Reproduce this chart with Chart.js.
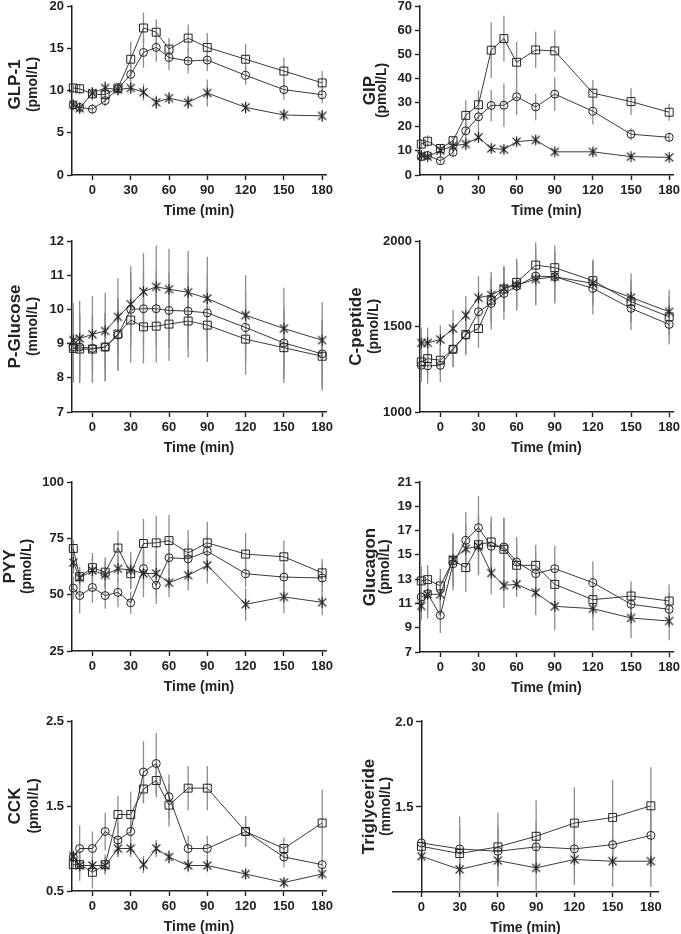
<!DOCTYPE html>
<html>
<head>
<meta charset="utf-8">
<script src="https://cdn.jsdelivr.net/npm/chart.js@4.4.1/dist/chart.umd.min.js"></script>
<style>
    body { margin: 0; background: #fff; }
    #page { position: relative; width: 681px; height: 934px; overflow: hidden; }
    #page canvas { position: absolute; }
</style>
</head>
<body>
<div id="page"></div>
<script>
// Sampling times (min)
const times = [-15, -10, 0, 10, 20, 30, 40, 50, 60, 75, 90, 120, 150, 180];
const tgTimes = [0, 30, 60, 90, 120, 150, 180];
const xTicks = [0, 30, 60, 90, 120, 150, 180];

// GLP-1 (pmol/L)
const glp1Square = [10.3, 10.2, 9.6, 9.5, 10.3, 13.7, 17.4, 16.9, 14.9, 16.2, 15.1, 13.7, 12.3, 10.9];
const glp1Circle = [8.3, 8.0, 7.8, 8.8, 10.2, 11.9, 14.5, 15.1, 13.9, 13.5, 13.6, 11.8, 10.1, 9.5];
const glp1Cross = [8.3, 7.9, 9.7, 10.3, 10.1, 10.3, 9.8, 8.6, 9.1, 8.6, 9.7, 8.0, 7.1, 7.0];
const glp1SquareErr = [0.5, 0.6, 0.8, 0.8, 0.6, 2.1, 1.8, 1.5, 1.3, 1.6, 1.7, 1.8, 1.6, 1.4];
const glp1CircleErr = [0.5, 0.6, 0.6, 0.7, 0.6, 1.2, 1.8, 1.7, 1.5, 1.5, 1.3, 1.1, 1.2, 1.0];
const glp1CrossErr = [0.4, 0.6, 0.7, 0.8, 0.7, 0.7, 1.0, 0.8, 0.7, 0.8, 1.6, 0.7, 0.7, 0.7];
const glp1YTicks = [0, 5, 10, 15, 20];

// GIP (pmol/L)
const gipSquare = [12.8, 14.0, 11.0, 14.2, 24.7, 29.1, 51.7, 56.5, 46.7, 51.8, 51.4, 33.9, 30.4, 26.0];
const gipCircle = [7.6, 8.1, 5.9, 9.4, 18.3, 24.1, 28.8, 28.9, 32.4, 28.2, 33.5, 26.4, 16.9, 15.6];
const gipCross = [8.1, 7.6, 10.1, 12.1, 12.8, 15.6, 11.0, 10.6, 13.8, 14.5, 9.6, 9.6, 7.6, 7.3];
const gipSquareErr = [2, 2.5, 1.5, 2, 6.3, 6, 11.5, 9.5, 8.5, 7.5, 8.5, 5.5, 5.5, 3.5];
const gipCircleErr = [1.5, 1.5, 1.5, 2, 5, 8, 6.5, 9, 7.5, 5.5, 7, 5.5, 2.5, 2];
const gipCrossErr = [1, 1, 1, 1.5, 2.5, 2, 1.5, 1.5, 1.5, 1.5, 1, 1.5, 1, 1];
const gipYTicks = [0, 10, 20, 30, 40, 50, 60, 70];

// P-Glucose (mmol/L)
const glucoseSquare = [8.86, 8.84, 8.84, 8.9, 9.28, 9.69, 9.49, 9.51, 9.57, 9.66, 9.54, 9.13, 8.88, 8.63];
const glucoseCircle = [8.9, 8.9, 8.86, 8.9, 9.25, 10.0, 10.02, 10.02, 9.97, 9.95, 9.9, 9.47, 9.02, 8.7];
const glucoseCross = [9.1, 9.15, 9.27, 9.37, 9.78, 10.15, 10.52, 10.66, 10.59, 10.5, 10.32, 9.83, 9.44, 9.1];
const glucoseSquareErr = [1.0, 1.0, 0.98, 0.99, 1.06, 1.24, 1.07, 1.06, 1.07, 1.07, 1.08, 1.04, 1.03, 1.01];
const glucoseCircleErr = [1.0, 1.0, 1.0, 1.0, 1.05, 1.1, 1.1, 1.1, 1.1, 1.1, 1.1, 1.05, 1.05, 1.0];
const glucoseCrossErr = [1.1, 1.1, 1.12, 1.12, 1.13, 1.12, 1.12, 1.2, 1.18, 1.21, 1.22, 1.17, 1.19, 1.12];
const glucoseYTicks = [7, 8, 9, 10, 11, 12];

// C-peptide (pmol/L)
const cpepSquare = [1293, 1312, 1303, 1367, 1453, 1488, 1654, 1719, 1758, 1859, 1844, 1768, 1645, 1557];
const cpepCircle = [1273, 1270, 1273, 1367, 1449, 1586, 1635, 1693, 1736, 1795, 1791, 1723, 1606, 1512];
const cpepCross = [1404, 1404, 1424, 1488, 1566, 1668, 1684, 1723, 1742, 1777, 1791, 1752, 1670, 1586];
const cpepSquareErr = [95, 95, 90, 105, 115, 113, 130, 130, 140, 133, 129, 125, 125, 120];
const cpepCircleErr = [100, 104, 97, 103, 117, 120, 153, 152, 144, 170, 156, 153, 127, 117];
const cpepCrossErr = [90, 90, 84, 108, 112, 127, 136, 132, 135, 152, 140, 130, 141, 127];
const cpepYTicks = [1000, 1500, 2000];

// PYY (pmol/L)
const pyySquare = [70.5, 58, 62, 60, 70.7, 59.3, 72.7, 73, 74, 68.5, 73, 68, 66.8, 59.7];
const pyyCircle = [52.9, 49.6, 53.2, 49.6, 51, 46.4, 61.6, 54.2, 66.4, 65.9, 69.3, 59.3, 57.8, 57.4];
const pyyCross = [64.3, 57.5, 60.7, 58.8, 61.5, 61, 59.4, 59.4, 55.3, 58.6, 63, 45.7, 49, 46.6];
const pyySquareErr = [4, 3.5, 6.5, 6.6, 7.7, 7, 10.9, 12, 11.3, 10.2, 9.4, 9.4, 7.2, 6.1];
const pyyCircleErr = [5, 7.8, 6.9, 5.9, 6.6, 4.9, 8, 8.3, 8, 7, 7, 6, 6, 6];
const pyyCrossErr = [5, 5, 6, 6, 6, 8, 10.5, 10, 6.4, 6.8, 8, 7.2, 7.2, 5.7];
const pyyYTicks = [25, 50, 75, 100];

// Glucagon (pmol/L)
const glucagonSquare = [12.85, 12.96, 12.44, 14.55, 13.95, 15.84, 16.06, 15.46, 14.14, 14.14, 12.57, 11.31, 11.61, 11.2];
const glucagonCircle = [11.53, 11.8, 10.02, 14.27, 16.2, 17.24, 15.7, 15.65, 14.41, 13.45, 13.86, 12.71, 10.93, 10.51];
const glucagonCross = [10.79, 11.75, 11.75, 14.63, 15.51, 15.7, 13.5, 12.49, 12.57, 11.89, 10.76, 10.57, 9.8, 9.55];
const glucagonSquareErr = [1.2, 1.2, 1.4, 2.2, 2.0, 2.4, 2.1, 2.6, 2.0, 1.7, 1.6, 1.5, 1.21, 1.35];
const glucagonCircleErr = [1.2, 1.5, 1.45, 2.2, 2.33, 2.6, 2.0, 2.4, 2.06, 1.7, 1.87, 1.76, 1.3, 1.3];
const glucagonCrossErr = [1.2, 2.0, 1.5, 2.2, 2.0, 2.4, 1.75, 1.87, 1.04, 1.87, 1.98, 1.79, 1.65, 1.59];
const glucagonYTicks = [7, 9, 11, 13, 15, 17, 19, 21];

// CCK (pmol/L)
const cckSquare = [0.81, 0.81, 0.72, 0.81, 1.40, 1.40, 1.70, 1.80, 1.51, 1.71, 1.71, 1.20, 1.0, 1.30];
const cckCircle = [0.9, 1.0, 1.0, 1.2, 1.1, 1.2, 1.9, 2.0, 1.61, 1.0, 1.0, 1.2, 0.9, 0.81];
const cckCross = [0.91, 0.80, 0.8, 0.8, 1.0, 1.0, 0.81, 1.0, 0.9, 0.8, 0.8, 0.7, 0.6, 0.7];
const cckSquareErr = [0.05, 0.1, 0.19, 0.12, 0.22, 0.27, 0.17, 0.2, 0.25, 0.26, 0.26, 0.18, 0.13, 0.39];
const cckCircleErr = [0.05, 0.27, 0.2, 0.22, 0.2, 0.2, 0.36, 0.36, 0.26, 0.15, 0.15, 0.18, 0.12, 0.1];
const cckCrossErr = [0.05, 0.18, 0.1, 0.1, 0.1, 0.1, 0.1, 0.1, 0.08, 0.08, 0.08, 0.06, 0.05, 0.06];
const cckYTicks = [0.5, 1.5, 2.5];

// Triglyceride (mmol/L)
const tgSquare = [1.267, 1.225, 1.264, 1.326, 1.403, 1.436, 1.504];
const tgCircle = [1.287, 1.252, 1.238, 1.264, 1.252, 1.277, 1.331];
const tgCross = [1.209, 1.132, 1.184, 1.141, 1.19, 1.18, 1.18];
const tgSquareErr = [0.02, 0.15, 0.2, 0.21, 0.21, 0.22, 0.225];
const tgCircleErr = [0.02, 0.19, 0.15, 0.15, 0.15, 0.15, 0.15];
const tgCrossErr = [0.02, 0.15, 0.15, 0.15, 0.15, 0.15, 0.15];
const tgYTicks = [1.5, 2.0];

const FONT = "'Liberation Sans', Arial, sans-serif";
const INK = '#222';

// Asterisk marker (X with a vertical stroke)
function makeStar() {
    const c = document.createElement('canvas');
    c.width = 13; c.height = 13;
    const g = c.getContext('2d');
    g.strokeStyle = INK;
    g.lineWidth = 1.1;
    g.beginPath();
    g.moveTo(2.5, 2.5); g.lineTo(10.5, 10.5);
    g.moveTo(10.5, 2.5); g.lineTo(2.5, 10.5);
    g.moveTo(6.5, 1); g.lineTo(6.5, 12);
    g.stroke();
    return c;
}
const starImg = makeStar();

// Vertical error bars, drawn under the lines
const errorBarsPlugin = {
    id: 'errorBars',
    beforeDatasetsDraw(chart) {
        const { ctx, chartArea, scales: { x, y } } = chart;
        ctx.save();
        ctx.beginPath();
        ctx.rect(chartArea.left - 6, chartArea.top - 6, chartArea.width + 12, chartArea.height + 6);
        ctx.clip();
        ctx.strokeStyle = '#8c8c8c';
        ctx.lineWidth = 1.3;
        chart.data.datasets.forEach(ds => {
            ds.data.forEach((p, i) => {
                const e = ds.errors[i];
                const px = x.getPixelForValue(p.x);
                ctx.beginPath();
                ctx.moveTo(px, y.getPixelForValue(p.y - e));
                ctx.lineTo(px, y.getPixelForValue(p.y + e));
                ctx.stroke();
            });
        });
        ctx.restore();
    }
};

// Two-line rotated y title (name + unit); also y tick labels when the axis sits at x = 0
const yTitlePlugin = {
    id: 'yTitle',
    afterDraw(chart, args, opts) {
        const { ctx, chartArea } = chart;
        const axisX = opts.atZero ? chart.scales.x.getPixelForValue(0) : chartArea.left;
        const cy = (chartArea.top + chartArea.bottom) / 2 + (opts.dy || 0);
        [[opts.main, opts.mainOff, 17], [opts.unit, opts.unitOff, 14]].forEach(([text, off, size]) => {
            ctx.save();
            ctx.translate(axisX + off, cy);
            ctx.rotate(-Math.PI / 2);
            ctx.font = `bold ${size}px ${FONT}`;
            ctx.fillStyle = INK;
            ctx.textAlign = 'center';
            ctx.textBaseline = 'middle';
            ctx.fillText(text, 0, 0);
            ctx.restore();
        });
        if (opts.atZero) {
            const ys = chart.scales.y;
            ctx.save();
            ctx.font = `bold 13px ${FONT}`;
            ctx.fillStyle = INK;
            ctx.textAlign = 'right';
            ctx.textBaseline = 'middle';
            ys.ticks.forEach(t => {
                ctx.fillText(t.value.toFixed(1), axisX - 8, ys.getPixelForValue(t.value) + 1);
            });
            ctx.restore();
        }
    }
};

function series(t, values, errors, style) {
    return {
        data: t.map((v, i) => ({ x: v, y: values[i] })),
        errors: errors,
        borderColor: '#3a3a3a',
        borderWidth: 1,
        pointStyle: style === 'star' ? starImg : style,
        pointRadius: style === 'rect' ? 5.6 : 4,
        pointBorderColor: INK,
        pointBorderWidth: 1,
        pointBackgroundColor: 'rgba(0,0,0,0)',
        tension: 0,
        clip: false
    };
}

// Chart-area rectangles are in page pixels
const panels = [
    { L: 72, T: 6, R: 326, B: 175, t: times, sq: glp1Square, ci: glp1Circle, cr: glp1Cross,
      sqE: glp1SquareErr, ciE: glp1CircleErr, crE: glp1CrossErr, yTicks: glp1YTicks,
      main: 'GLP-1', unit: '(pmol/L)', mainOff: -57, unitOff: -39, dy: -6 },
    { L: 420, T: 6, R: 673, B: 175, t: times, sq: gipSquare, ci: gipCircle, cr: gipCross,
      sqE: gipSquareErr, ciE: gipCircleErr, crE: gipCrossErr, yTicks: gipYTicks,
      main: 'GIP', unit: '(pmol/L)', mainOff: -50, unitOff: -38 },
    { L: 72, T: 241, R: 326, B: 412, t: times, sq: glucoseSquare, ci: glucoseCircle, cr: glucoseCross,
      sqE: glucoseSquareErr, ciE: glucoseCircleErr, crE: glucoseCrossErr, yTicks: glucoseYTicks,
      main: 'P-Glucose', unit: '(mmol/L)', mainOff: -57, unitOff: -39 },
    { L: 420, T: 241, R: 673, B: 412, t: times, sq: cpepSquare, ci: cpepCircle, cr: cpepCross,
      sqE: cpepSquareErr, ciE: cpepCircleErr, crE: cpepCrossErr, yTicks: cpepYTicks,
      main: 'C-peptide', unit: '(pmol/L)', mainOff: -64, unitOff: -46 },
    { L: 72, T: 482, R: 326, B: 651, t: times, sq: pyySquare, ci: pyyCircle, cr: pyyCross,
      sqE: pyySquareErr, ciE: pyyCircleErr, crE: pyyCrossErr, yTicks: pyyYTicks,
      main: 'PYY', unit: '(pmol/L)', mainOff: -62, unitOff: -45 },
    { L: 420, T: 482, R: 673, B: 652, t: times, sq: glucagonSquare, ci: glucagonCircle, cr: glucagonCross,
      sqE: glucagonSquareErr, ciE: glucagonCircleErr, crE: glucagonCrossErr, yTicks: glucagonYTicks,
      main: 'Glucagon', unit: '(pmol/L)', mainOff: -50, unitOff: -35 },
    { L: 72, T: 721, R: 326, B: 891, t: times, sq: cckSquare, ci: cckCircle, cr: cckCross,
      sqE: cckSquareErr, ciE: cckCircleErr, crE: cckCrossErr, yTicks: cckYTicks, decimals: 1,
      main: 'CCK', unit: '(pmol/L)', mainOff: -57, unitOff: -38 },
    { L: 393, T: 721, R: 658, B: 892, t: tgTimes, sq: tgSquare, ci: tgCircle, cr: tgCross,
      sqE: tgSquareErr, ciE: tgCircleErr, crE: tgCrossErr, yTicks: tgYTicks, decimals: 1,
      yMin: 1.0, xMin: -22.3, xMax: 185.6, atZero: true,
      main: 'Triglyceride', unit: '(mmol/L)', mainOff: -52, unitOff: -35 }
];

const page = document.getElementById('page');

panels.forEach(p => {
    const canvas = document.createElement('canvas');
    const w = p.R - p.L + 92;
    const h = p.B - p.T + 57;
    canvas.width = w; canvas.height = h;
    canvas.style.width = w + 'px'; canvas.style.height = h + 'px';
    canvas.style.left = (p.L - 80) + 'px';
    canvas.style.top = (p.T - 12) + 'px';
    page.appendChild(canvas);

    const tickFont = { family: FONT, size: 13, weight: 'bold' };
    const axisGrid = { drawOnChartArea: false, drawTicks: true, tickLength: 5, tickColor: INK, tickWidth: 1.4 };
    const yTicks = p.yTicks;

    const yScale = {
        type: 'linear',
        min: p.yMin !== undefined ? p.yMin : yTicks[0],
        max: yTicks[yTicks.length - 1],
        afterBuildTicks: s => { s.ticks = yTicks.map(v => ({ value: v })); },
        ticks: {
            display: !p.atZero,
            font: tickFont, color: INK, padding: 3,
            callback: v => p.decimals ? v.toFixed(p.decimals) : v
        },
        grid: axisGrid,
        border: { color: INK, width: 1.5 }
    };
    if (p.atZero) {
        yScale.position = { x: 0 };
    } else {
        yScale.position = 'left';
        yScale.afterFit = s => { s.width = 80; };
    }

    new Chart(canvas, {
        type: 'line',
        data: {
            datasets: [
                series(p.t, p.sq, p.sqE, 'rect'),
                series(p.t, p.ci, p.ciE, 'circle'),
                series(p.t, p.cr, p.crE, 'star')
            ]
        },
        options: {
            responsive: false,
            animation: false,
            devicePixelRatio: 1,
            layout: { padding: { left: p.atZero ? 80 : 0, top: 12, right: 12, bottom: 0 } },
            plugins: {
                legend: { display: false },
                tooltip: { enabled: false },
                yTitle: { main: p.main, unit: p.unit, mainOff: p.mainOff, unitOff: p.unitOff, dy: p.dy, atZero: p.atZero }
            },
            scales: {
                x: {
                    type: 'linear',
                    position: 'bottom',
                    min: p.xMin !== undefined ? p.xMin : -16,
                    max: p.xMax !== undefined ? p.xMax : 183,
                    afterBuildTicks: s => { s.ticks = xTicks.map(v => ({ value: v })); },
                    afterFit: s => { s.height = 45; },
                    ticks: { font: tickFont, color: INK, padding: 3, maxRotation: 0, autoSkip: false },
                    grid: axisGrid,
                    border: { color: INK, width: 1.5 },
                    title: {
                        display: true, text: 'Time (min)', color: INK,
                        font: { family: FONT, size: 14, weight: 'bold' },
                        padding: { top: 0, bottom: 0 }
                    }
                },
                y: yScale
            }
        },
        plugins: [errorBarsPlugin, yTitlePlugin]
    });
});
</script>
</body>
</html>
